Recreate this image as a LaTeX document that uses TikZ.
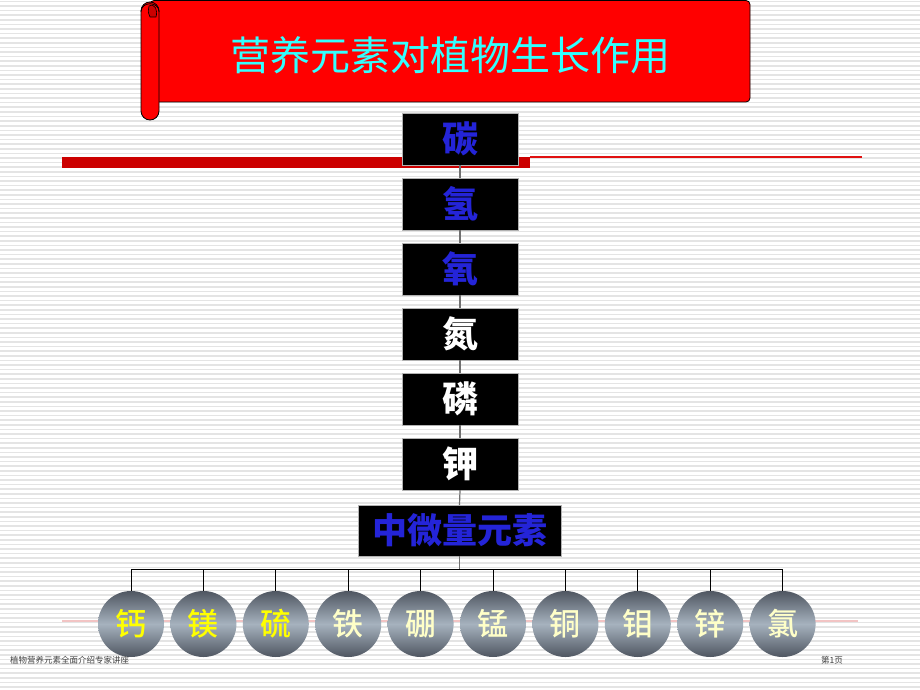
\documentclass[tikz,border=0pt]{standalone}
\usepackage{fontspec}
\newfontfamily\cjk{Noto Sans CJK SC}
\newfontfamily\cjkm{Noto Sans CJK SC Medium}
\usetikzlibrary{positioning}
\definecolor{rojo}{HTML}{FF0000}
\definecolor{rojooscuro}{HTML}{CC0000}
\definecolor{rojolinea}{HTML}{E01010}
\definecolor{cian}{HTML}{33FFFF}
\definecolor{azul}{HTML}{2424D8}
\definecolor{rayas}{HTML}{E4E4E4}
\definecolor{rosa}{HTML}{F2C4C4}
\definecolor{bolaoscura}{HTML}{4F5661}
\definecolor{bolaclara}{HTML}{A6B2BE}
\definecolor{amarillo}{HTML}{FFFF00}
\definecolor{crema}{HTML}{FFFFC8}
\definecolor{linea}{HTML}{707070}

\tikzset{
  caja/.style={draw=gray!60, fill=black, minimum width=116, minimum height=52, inner sep=0},
  letra/.style={font=\cjk\bfseries\fontsize{36}{36}\selectfont, inner sep=0},
  letrabola/.style={font=\cjkm\fontsize{31}{31}\selectfont, inner sep=0},
  bola/.style={circle, minimum size=66, inner sep=0, top color=bolaoscura, bottom color=bolaoscura, middle color=bolaclara},
  conector/.style={draw=linea, line width=1.2},
  rama/.style={draw=black, line width=1}
}

\begin{document}
\begin{tikzpicture}[x=1pt, y=-1pt]
        \useasboundingbox (0,0) rectangle (920,690);
        % Fondo blanco con rayas grises
        \fill[white] (0,0) rectangle (920,690);
        \foreach \y in {1.5,6.1,...,690} {
            \draw[rayas, line width=1.6] (0,\y) -- (920,\y);
        }
        % Barra roja y lineas de adorno
        \fill[rojooscuro] (62,157) rectangle (530,168);
        \draw[rojolinea, line width=1.5] (530,157.2) -- (862,157.2);
        \draw[rosa, line width=2] (62,621) -- (858,621);

        % Pergamino del titulo
        \draw[fill=rojo, line width=0.8, rounded corners=4] (150,0.5) rectangle (750,102);
        \draw[fill=rojo, line width=0.8, rounded corners=9] (141,2) rectangle (159,120);
        \draw[fill=rojo, line width=0.8] (141,12) .. controls (141,1) and (159,1) .. (159,12);
        \draw[fill=rojooscuro, line width=0.6] (149,6) .. controls (155,3) and (158,10) .. (156,17) -- (150,17) .. controls (148,12) .. (149,6);
        \node[font=\cjk\fontsize{40}{40}\selectfont, text=cian, inner sep=0] (titulo) at (450,55) {营养元素对植物生长作用};

        % Cajas negras de los macroelementos
        \foreach \nom/\col [count=\i] in {碳/azul, 氢/azul, 氧/azul, 氮/white, 磷/white, 钾/white} {
            \node[caja, letra, text=\col] (b\i) at (460, {139+65*(\i-1)}) {\nom};
        }
        \foreach \i [evaluate=\i as \j using int(\i+1)] in {1,...,5} {
            \draw[conector] (b\i.south) -- (b\j.north);
        }

        % Caja de los elementos medios y micro
        \node[caja, letra, font=\cjk\bfseries\fontsize{35}{35}\selectfont, text=azul, minimum width=203, minimum height=51] (medio) at (459.5,530.5) {中微量元素};
        \draw[conector] (b6.south) -- (medio.north);

        % Bolas de los elementos
        \foreach \el/\col [count=\i] in {钙/amarillo, 镁/amarillo, 硫/amarillo, 铁/crema, 硼/crema, 锰/crema, 铜/crema, 钼/crema, 锌/crema, 氯/crema} {
            \node[bola, letrabola, text=\col] (e\i) at ({131+72.4*(\i-1)}, 624) {\el};
            \coordinate (d\i) at ({131+72.4*(\i-1)}, 569);
            \draw[rama] (d\i) -- (e\i.north);
        }
        \coordinate (bus) at (medio.south |- d1);
        \draw[conector] (medio.south) -- (bus);
        \draw[rama] (d1) -- (d10);

        % Pie de pagina
        \node[font=\cjk\fontsize{8.5}{8.5}\selectfont, text=black!75, anchor=west, inner sep=0] (pie) at (10,660) {植物营养元素全面介绍专家讲座};
        \node[font=\cjk\fontsize{8.5}{8.5}\selectfont, text=black!75, anchor=west, inner sep=0] (pagina) at (821,660) {第1页};
    \end{tikzpicture}
\end{document}
